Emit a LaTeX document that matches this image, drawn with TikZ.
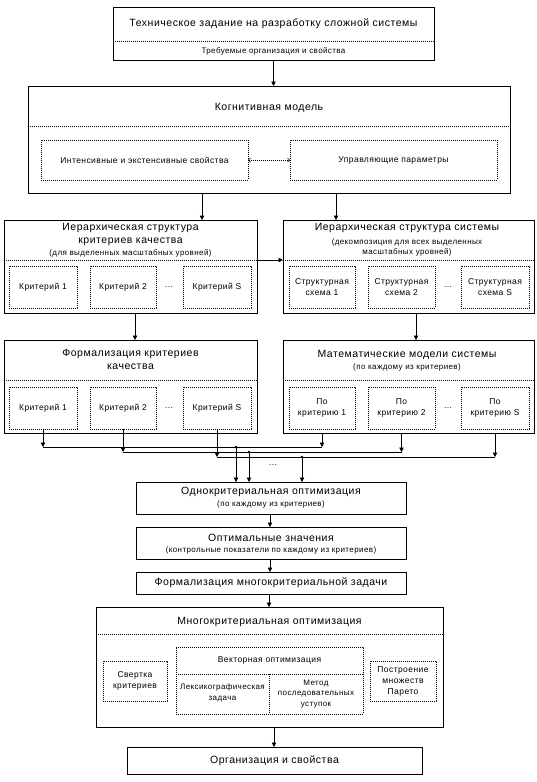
\documentclass[tikz,border=0pt]{standalone}
\usepackage{fontspec}
\setmainfont{Liberation Sans}[LetterSpace=5]
\usetikzlibrary{arrows.meta}
\newcommand{\rbox}[7][box]{\node[#1, minimum width={#5-#3}, minimum height={#6-#4}] (#2) at ({(#3+#5)/2},{(#4+#6)/2}) {#7};}
\begin{document}
\begin{tikzpicture}[x=1pt,y=-1pt,
  box/.style={draw, line width=0.8pt, inner sep=0pt, outer sep=0pt, align=center},
  dbox/.style={draw, line width=0.7pt, dash pattern=on 0.8pt off 1.2pt, inner sep=0pt, outer sep=0pt, align=center, font=\fontsize{8.5}{11}\selectfont},
  nbox/.style={inner sep=0pt, outer sep=0pt, align=center, font=\fontsize{8.5}{11}\selectfont},
  dv/.style={line width=0.7pt, dash pattern=on 0.8pt off 1.2pt},
  ln/.style={line width=0.8pt},
  arr/.style={line width=0.8pt, -{Triangle[length=4.5pt,width=4.5pt]}},
  tbig/.style={inner sep=0pt, font=\fontsize{10.5}{13}\selectfont},
  tsmall/.style={inner sep=0pt, font=\fontsize{8}{10}\selectfont},
  tin/.style={inner sep=0pt, font=\fontsize{8.5}{11}\selectfont}]
\useasboundingbox[fill=white] (0,0) rectangle (537,782);

% top
\rbox{top}{113}{7}{434}{60}{}
\node[tbig] (topT) at (273.5,24) {Техническое задание на разработку сложной системы};
\node[tsmall] (topS) at (273.5,51) {Требуемые организация и свойства};
\draw[dv] (113,41) -- (434,41);

% cognitive
\rbox{cog}{28}{86}{510}{193}{}
\node[tbig] (cogT) at (269,108) {Когнитивная модель};
\draw[dv] (28,126) -- (510,126);
\rbox[dbox]{cogL}{41}{140}{248}{180}{Интенсивные и экстенсивные свойства}
\rbox[dbox]{cogR}{290}{140}{497}{180}{Управляющие параметры}
\draw[dv, {Straight Barb[length=2pt,width=4pt]}-{Straight Barb[length=2pt,width=4pt]}] (cogL) -- (cogR);
\draw[arr] (top.south) -- (top.south |- cog.north);

% hierarchical left
\rbox{hierL}{4}{220}{257}{313}{}
\node[tbig] (hL1) at (130.5,228) {Иерархическая структура};
\node[tbig] (hL2) at (130.5,242) {критериев качества};
\node[tsmall] (hL3) at (130.5,253) {(для выделенных масштабных уровней)};
\draw[dv] (4,260) -- (257,260);
\rbox[dbox]{k1}{9}{266}{77}{308}{Критерий 1}
\rbox[dbox]{k2}{90}{266}{156}{308}{Критерий 2}
\node[tin] (kd) at (169,287) {...};
\rbox[dbox]{kS}{183}{266}{251}{308}{Критерий S}

% hierarchical right
\rbox{hierR}{283}{220}{534}{313}{}
\node[tbig] (hR1) at (407,228) {Иерархическая структура системы};
\node[tsmall] (hR2) at (407,242) {(декомпозиция для всех выделенных};
\node[tsmall] (hR3) at (407,252) {масштабных уровней)};
\draw[dv] (283,260) -- (534,260);
\rbox[dbox]{s1}{289}{266}{355}{308}{Структурная\\схема 1}
\rbox[dbox]{s2}{368}{266}{435}{308}{Структурная\\схема 2}
\node[tin] (sd) at (448,287) {...};
\rbox[dbox]{sS}{461}{266}{529}{308}{Структурная\\схема S}

\coordinate (ca) at (202,193);
\coordinate (cb) at (336,193);
\draw[arr] (ca) -- (ca |- hierL.north);
\draw[arr] (cb) -- (cb |- hierR.north);
\coordinate (ha) at (257,260);
\draw[arr] (ha) -- (ha -| hierR.west);

% formalization
\rbox{form}{4}{340}{257}{433}{}
\node[tbig] (fT1) at (130.5,354) {Формализация критериев};
\node[tbig] (fT2) at (130.5,367) {качества};
\draw[dv] (4,380) -- (257,380);
\rbox[dbox]{f1}{9}{387}{77}{429}{Критерий 1}
\rbox[dbox]{f2}{90}{387}{156}{429}{Критерий 2}
\node[tin] (fd) at (169,408) {...};
\rbox[dbox]{fS}{183}{387}{251}{429}{Критерий S}

% math models
\rbox{math}{283}{340}{534}{433}{}
\node[tbig] (mT1) at (407,355) {Математические модели системы};
\node[tsmall] (mT2) at (407,367) {(по каждому из критериев)};
\draw[dv] (283,380) -- (534,380);
\rbox[dbox]{m1}{289}{387}{355}{429}{По\\критерию 1}
\rbox[dbox]{m2}{368}{387}{435}{429}{По\\критерию 2}
\node[tin] (md) at (448,408) {...};
\rbox[dbox]{mS}{461}{387}{529}{429}{По\\критерию S}

\coordinate (ea) at (135,313);
\coordinate (eb) at (416,313);
\draw[arr] (ea) -- (ea |- form.north);
\draw[arr] (eb) -- (eb |- math.north);

% bus
\coordinate (y1) at (0,447);
\coordinate (y2) at (0,452);
\coordinate (y3) at (0,457);
\draw[arr] (f1.south) -- (f1.south |- y1);
\draw[arr] (f2.south) -- (f2.south |- y2);
\draw[arr] (fS.south) -- (fS.south |- y3);
\draw[arr] (m1.south |- math.south) -- (m1.south |- y1);
\draw[arr] (m2.south |- math.south) -- (m2.south |- y2);
\draw[arr] (mS.south |- math.south) -- (mS.south |- y3);
\draw[ln] (f1.south |- y1) -- (m1.south |- y1);
\draw[ln] (f2.south |- y2) -- (m2.south |- y2);
\draw[ln] (fS.south |- y3) -- (mS.south |- y3);

% single-criterion
\rbox{single}{136}{482}{406}{514}{}
\node[tbig] (sgT1) at (271,492) {Однокритериальная оптимизация};
\node[tsmall] (sgT2) at (271,504) {(по каждому из критериев)};

\coordinate (j1) at (236,447);
\coordinate (j2) at (249,452);
\coordinate (j3) at (302,457);
\fill (j1) circle (1.4pt);
\fill (j2) circle (1.4pt);
\fill (j3) circle (1.4pt);
\draw[arr] (j1) -- (j1 |- single.north);
\draw[arr] (j2) -- (j2 |- single.north);
\draw[arr] (j3) -- (j3 |- single.north);
\node[tin] (jd) at (273,465) {...};

% optimal values
\rbox{opt}{136}{527}{406}{559}{}
\node[tbig] (oT1) at (271,538) {Оптимальные значения};
\node[tsmall] (oT2) at (271,550) {(контрольные показатели по каждому из критериев)};
\coordinate (sa) at (270,514);
\draw[arr] (sa) -- (sa |- opt.north);

% formalization multi
\rbox{formal}{136}{572}{406}{594}{}
\node[tbig] (fmT) at (271,583) {Формализация многокритериальной задачи};
\coordinate (oa) at (270,559);
\draw[arr] (oa) -- (oa |- formal.north);

% multi-criteria
\rbox{multi}{96}{607}{443}{727}{}
\node[tbig] (muT) at (269.5,622) {Многокритериальная оптимизация};
\draw[dv] (96,634) -- (443,634);
\coordinate (fa) at (269,594);
\draw[arr] (fa) -- (fa |- multi.north);
\rbox[dbox]{sv}{103}{661}{167}{701}{Свертка\\критериев}
\rbox[dbox]{vec}{176}{647}{363}{714}{}
\node[tin] (vecT) at (269.5,660) {Векторная оптимизация};
\draw[dv] (176,674) -- (363,674);
\draw[dv] (269,674) -- (269,714);
\node[nbox, font=\fontsize{8}{10.5}\selectfont] (lex) at (222.5,693) {Лексикографическая\\задача};
\node[nbox, font=\fontsize{8}{10.5}\selectfont] (met) at (316,694) {Метод\\последовательных\\уступок};
\rbox[dbox]{par}{370}{661}{436}{701}{Построение\\множеств\\Парето}

% final
\rbox{fin}{127}{747}{422}{774}{}
\node[tbig] (finT) at (274.5,761) {Организация и свойства};
\coordinate (ma) at (274,727);
\draw[arr] (ma) -- (ma |- fin.north);
\end{tikzpicture}
\end{document}
